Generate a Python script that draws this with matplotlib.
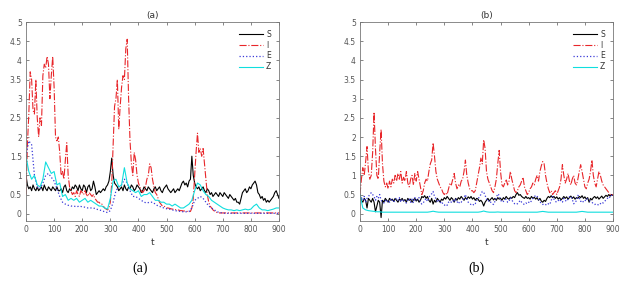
import numpy as np
import matplotlib
matplotlib.use("Agg")
import matplotlib.pyplot as plt

# ---------------- data: panel (a) ----------------
a_I = [0.5, 1.8, 2.6, 3.7, 3.5, 2.7, 2.6, 3.5, 2.5, 2.0, 2.5, 2.3, 3.6, 3.9, 3.8, 4.1, 3.9, 3.0, 3.6, 4.1,
       3.3, 2.0, 1.9, 2.0, 1.6, 1.0, 1.1, 0.9, 1.4, 1.85, 1.0, 0.7, 0.6, 0.5, 0.55, 0.45, 0.6, 0.5, 0.45, 0.6,
       0.55, 0.5, 0.6, 0.5, 0.45, 0.55, 0.5, 0.45, 0.5, 0.4, 0.35, 0.3, 0.3, 0.25, 0.25, 0.2, 0.15, 0.12, 0.1, 0.15,
       0.3, 0.8, 1.8, 2.8, 3.0, 3.5, 2.2, 2.8, 3.3, 3.6, 3.5, 4.3, 4.55, 3.0, 1.9, 1.3, 1.0, 1.6, 1.4, 1.0,
       0.8, 0.7, 0.6, 0.55, 0.6, 0.7, 0.9, 1.0, 1.3, 1.2, 0.9, 0.7, 0.55, 0.5, 0.4, 0.3, 0.25, 0.2, 0.2, 0.18,
       0.15, 0.15, 0.14, 0.13, 0.12, 0.12, 0.11, 0.1, 0.1, 0.09, 0.08, 0.08, 0.07, 0.07, 0.06, 0.06, 0.05, 0.06, 0.15, 0.4,
       1.0, 1.6, 2.1, 1.6, 1.7, 1.5, 1.7, 1.3, 0.9, 0.5, 0.3, 0.2, 0.15, 0.1, 0.07, 0.05, 0.03, 0.02, 0.02, 0.02,
       0.02, 0.02, 0.02, 0.02, 0.02, 0.02, 0.02, 0.02, 0.02, 0.02, 0.02, 0.02, 0.02, 0.02, 0.02, 0.02, 0.02, 0.02, 0.02, 0.02,
       0.02, 0.02, 0.02, 0.02, 0.02, 0.02, 0.02, 0.02, 0.02, 0.02, 0.02, 0.02, 0.02, 0.02, 0.02, 0.02, 0.02, 0.02, 0.02, 0.02,
       0.02]

a_S = [1.0, 0.75, 0.65, 0.7, 0.6, 0.75, 0.65, 0.6, 0.7, 0.6, 0.65, 0.7, 0.6, 0.75, 0.65, 0.6, 0.7, 0.65, 0.6, 0.7,
       0.65, 0.6, 0.7, 0.6, 0.6, 0.65, 0.55, 0.7, 0.75, 0.6, 0.55, 0.65, 0.6, 0.7, 0.65, 0.75, 0.7, 0.6, 0.75, 0.65,
       0.6, 0.75, 0.7, 0.55, 0.7, 0.75, 0.6, 0.65, 0.85, 0.7, 0.5, 0.55, 0.6, 0.55, 0.6, 0.65, 0.6, 0.7, 0.75, 0.85,
       1.1, 1.45, 1.0, 0.8, 0.75, 0.7, 0.6, 0.65, 0.7, 0.6, 0.75, 0.65, 0.6, 0.7, 0.65, 0.75, 0.7, 0.6, 0.65, 0.75,
       0.7, 0.65, 0.55, 0.6, 0.7, 0.65, 0.6, 0.7, 0.65, 0.6, 0.55, 0.65, 0.7, 0.6, 0.65, 0.7, 0.6, 0.55, 0.65, 0.7,
       0.75, 0.65, 0.6, 0.55, 0.6, 0.65, 0.55, 0.6, 0.65, 0.6, 0.7, 0.8, 0.85, 0.75, 0.8, 0.7, 0.85, 0.9, 1.5, 1.0,
       0.8, 0.7, 0.65, 0.7, 0.6, 0.65, 0.7, 0.6, 0.55, 0.65, 0.6, 0.5, 0.55, 0.45, 0.5, 0.55, 0.5, 0.45, 0.55, 0.5,
       0.45, 0.55, 0.5, 0.45, 0.4, 0.5, 0.45, 0.4, 0.35, 0.4, 0.3, 0.3, 0.25, 0.4, 0.55, 0.6, 0.65, 0.55, 0.6, 0.7,
       0.65, 0.75, 0.8, 0.85, 0.75, 0.55, 0.5, 0.4, 0.45, 0.35, 0.4, 0.3, 0.35, 0.3, 0.35, 0.4, 0.45, 0.55, 0.6, 0.5,
       0.4]

a_E = [1.5, 1.9, 1.8, 1.0, 0.7, 0.65, 0.8, 1.0, 1.05, 0.95, 0.85, 0.65, 0.45, 0.3, 0.25, 0.22, 0.2, 0.2, 0.18, 0.2,
       0.18, 0.17, 0.15, 0.15, 0.15, 0.12, 0.1, 0.08, 0.05, 0.03, 0.08, 0.3, 0.6, 0.7, 0.75, 0.9, 0.8, 0.6, 0.45, 0.45,
       0.4, 0.35, 0.3, 0.28, 0.3, 0.3, 0.25, 0.2, 0.18, 0.15, 0.13, 0.12, 0.1, 0.08, 0.07, 0.06, 0.05, 0.05, 0.06, 0.15,
       0.35, 0.4, 0.45, 0.4, 0.3, 0.2, 0.15, 0.1, 0.05, 0.03, 0.02, 0.01, 0.01, 0.01, 0.01, 0.01, 0.01, 0.01, 0.01, 0.01,
       0.01, 0.01, 0.01, 0.01, 0.01, 0.01, 0.01, 0.01, 0.01, 0.01, 0.01]

a_Z = [1.5, 1.1, 0.9, 1.0, 0.75, 0.7, 0.9, 1.35, 1.2, 1.05, 1.1, 0.75, 0.8, 0.45, 0.5, 0.35, 0.4, 0.35, 0.4, 0.3,
       0.35, 0.4, 0.3, 0.35, 0.3, 0.25, 0.2, 0.2, 0.15, 0.12, 0.4, 0.85, 0.9, 0.7, 0.75, 1.2, 0.8, 0.65, 0.6, 0.55,
       0.6, 0.45, 0.5, 0.5, 0.55, 0.45, 0.35, 0.35, 0.3, 0.3, 0.25, 0.25, 0.2, 0.25, 0.2, 0.15, 0.15, 0.2, 0.25, 0.35,
       0.6, 0.8, 0.75, 0.6, 0.5, 0.45, 0.35, 0.3, 0.25, 0.2, 0.15, 0.12, 0.1, 0.1, 0.08, 0.1, 0.08, 0.1, 0.12, 0.1,
       0.12, 0.2, 0.25, 0.15, 0.1, 0.1, 0.08, 0.1, 0.12, 0.15, 0.15]

# ---------------- data: panel (b) ----------------
b_I = [0.5, 0.9, 1.2, 1.0, 1.35, 1.75, 1.1, 0.9, 1.0, 1.6, 2.65, 1.7, 1.0, 0.9, 1.6, 2.2, 1.3, 0.85, 0.7, 0.8,
       0.65, 0.85, 0.7, 0.9, 0.8, 1.0, 0.85, 1.05, 0.9, 1.1, 0.8, 0.95, 0.85, 1.1, 0.8, 0.7, 0.9, 1.0, 0.75, 1.05,
       0.85, 1.1, 0.9, 0.7, 0.5, 0.6, 0.8, 0.9, 0.85, 1.1, 1.3, 1.4, 1.85, 1.5, 1.1, 0.9, 0.8, 0.7, 0.65, 0.55,
       0.5, 0.55, 0.5, 0.65, 0.8, 0.75, 0.9, 1.05, 0.8, 0.65, 0.75, 0.7, 0.85, 0.9, 1.1, 1.4, 1.0, 0.8, 0.65, 0.6,
       0.6, 0.55, 0.6, 0.8, 1.0, 1.2, 1.45, 1.3, 1.93, 1.7, 1.1, 0.9, 0.8, 0.7, 0.6, 0.55, 0.7, 0.9, 1.3, 1.65,
       1.1, 0.75, 0.7, 0.8, 0.9, 0.75, 0.85, 1.1, 0.9, 0.75, 0.6, 0.55, 0.6, 0.7, 0.75, 0.85, 0.95, 0.7, 0.6, 0.5,
       0.55, 0.65, 0.7, 0.8, 0.75, 0.9, 1.0, 0.85, 1.1, 1.25, 1.36, 1.3, 1.0, 0.8, 0.65, 0.55, 0.6, 0.5, 0.55, 0.6,
       0.5, 0.6, 0.7, 0.9, 1.28, 1.0, 0.8, 0.9, 1.05, 0.85, 0.75, 0.9, 1.0, 0.8, 0.75, 0.9, 1.1, 1.28, 1.1, 0.9,
       0.7, 0.65, 0.8, 0.9, 1.1, 1.4, 1.0, 0.8, 0.7, 0.9, 1.1, 1.0, 0.85, 0.75, 0.7, 0.65, 0.6, 0.55, 0.5, 0.48,
       0.5]

b_S = [0.5, 0.35, 0.3, 0.4, 0.35, 0.15, 0.4, 0.35, 0.3, 0.4, 0.3, 0.05, 0.2, 0.35, 0.3, -0.1, 0.35, 0.3, 0.4, 0.35,
       0.3, 0.4, 0.35, 0.38, 0.32, 0.4, 0.35, 0.3, 0.38, 0.35, 0.4, 0.33, 0.37, 0.3, 0.4, 0.35, 0.38, 0.3, 0.36, 0.4,
       0.33, 0.38, 0.3, 0.35, 0.45, 0.42, 0.47, 0.4, 0.45, 0.35, 0.3, 0.4, 0.25, 0.35, 0.3, 0.4, 0.35, 0.3, 0.38, 0.35,
       0.42, 0.38, 0.45, 0.4, 0.35, 0.42, 0.38, 0.3, 0.4, 0.35, 0.42, 0.38, 0.45, 0.4, 0.35, 0.42, 0.38, 0.44, 0.4, 0.45,
       0.38, 0.42, 0.35, 0.4, 0.38, 0.32, 0.35, 0.3, 0.2, 0.3, 0.35, 0.4, 0.33, 0.38, 0.42, 0.36, 0.4, 0.35, 0.42, 0.38,
       0.4, 0.35, 0.42, 0.38, 0.45, 0.4, 0.38, 0.43, 0.4, 0.45, 0.42, 0.5, 0.55, 0.48, 0.5, 0.45, 0.42, 0.4, 0.45, 0.4,
       0.42, 0.38, 0.45, 0.4, 0.43, 0.38, 0.42, 0.35, 0.4, 0.33, 0.3, 0.35, 0.32, 0.4, 0.45, 0.42, 0.47, 0.42, 0.45, 0.4,
       0.44, 0.38, 0.42, 0.36, 0.4, 0.45, 0.4, 0.44, 0.38, 0.42, 0.46, 0.4, 0.44, 0.38, 0.42, 0.4, 0.45, 0.42, 0.47, 0.4,
       0.44, 0.38, 0.42, 0.3, 0.4, 0.36, 0.42, 0.45, 0.4, 0.44, 0.38, 0.42, 0.46, 0.4, 0.44, 0.48, 0.45, 0.5, 0.46, 0.5,
       0.48]

b_E = [0.5, 0.42, 0.35, 0.45, 0.3, 0.4, 0.45, 0.5, 0.55, 0.5, 0.45, 0.35, 0.45, 0.4, 0.5, 0.35, 0.3, 0.28, 0.35, 0.3,
       0.35, 0.3, 0.4, 0.35, 0.3, 0.38, 0.4, 0.35, 0.42, 0.3, 0.38, 0.35, 0.3, 0.28, 0.35, 0.4, 0.3, 0.38, 0.28, 0.42,
       0.35, 0.4, 0.42, 0.3, 0.25, 0.28, 0.35, 0.4, 0.32, 0.42, 0.48, 0.52, 0.58, 0.45, 0.4, 0.32, 0.36, 0.28, 0.32, 0.25,
       0.22, 0.25, 0.22, 0.3, 0.33, 0.3, 0.35, 0.3, 0.4, 0.32, 0.26, 0.32, 0.3, 0.36, 0.42, 0.5, 0.38, 0.3, 0.26, 0.24,
       0.26, 0.22, 0.26, 0.35, 0.38, 0.45, 0.5, 0.58, 0.56, 0.48, 0.38, 0.32, 0.35, 0.3, 0.26, 0.24, 0.32, 0.42, 0.52, 0.48,
       0.36, 0.3, 0.32, 0.36, 0.38, 0.3, 0.32, 0.42, 0.36, 0.3, 0.26, 0.24, 0.26, 0.3, 0.35, 0.3, 0.26, 0.24, 0.28, 0.26,
       0.3, 0.28, 0.34, 0.4, 0.44, 0.48, 0.46, 0.38, 0.32, 0.26, 0.24, 0.26, 0.24, 0.22, 0.26, 0.24, 0.34, 0.45, 0.38, 0.32,
       0.3, 0.34, 0.38, 0.32, 0.3, 0.4, 0.35, 0.32, 0.38, 0.44, 0.46, 0.38, 0.26, 0.28, 0.35, 0.48, 0.42, 0.32, 0.35, 0.3,
       0.32, 0.4, 0.38, 0.35, 0.32, 0.3, 0.26, 0.24, 0.26, 0.24, 0.22, 0.26, 0.3, 0.28, 0.32, 0.36, 0.4, 0.45, 0.42, 0.48,
       0.5]

b_Z = [0.5, 0.15, 0.1, 0.08, 0.07, 0.06, 0.05, 0.05, 0.04, 0.04, 0.04, 0.04, 0.04, 0.04, 0.04, 0.04, 0.04, 0.04, 0.04, 0.04,
       0.04, 0.04, 0.04, 0.04, 0.04, 0.05, 0.065, 0.05, 0.04, 0.04, 0.04, 0.04, 0.04, 0.04, 0.04, 0.04, 0.04, 0.04, 0.04, 0.04,
       0.04, 0.04, 0.04, 0.05, 0.07, 0.05, 0.04, 0.04, 0.04, 0.045, 0.04, 0.04, 0.04, 0.04, 0.04, 0.04, 0.04, 0.04, 0.04, 0.04,
       0.04, 0.04, 0.04, 0.04, 0.05, 0.06, 0.05, 0.04, 0.04, 0.04, 0.04, 0.04, 0.04, 0.04, 0.04, 0.04, 0.04, 0.04, 0.05, 0.06,
       0.05, 0.04, 0.04, 0.04, 0.04, 0.04, 0.04, 0.04, 0.04, 0.04, 0.04]

series_labels = ["S", "I", "E", "Z"]
x_ticks = [0, 100, 200, 300, 400, 500, 600, 700, 800, 900]
y_ticks = [0, 0.5, 1, 1.5, 2, 2.5, 3, 3.5, 4, 4.5, 5]
y_ticklabels = ["0", "0.5", "1", "1.5", "2", "2.5", "3", "3.5", "4", "4.5", "5"]

# ---------------- figure ----------------
plt.rcParams['font.family'] = ['DejaVu Sans']
fig = plt.figure(figsize=(6.25, 2.81), dpi=100)
W, H = 625.0, 281.0

def make_ax(x0, x1, y0, y1):
    return fig.add_axes([x0 / W, 1 - y1 / H, (x1 - x0) / W, (y1 - y0) / H])

styles = [dict(color="black", ls="-", lw=0.8),
          dict(color="#e8262a", ls="-.", lw=0.8),
          dict(color="#3a3ad8", ls=":", lw=0.9),
          dict(color="#10dede", ls="-", lw=0.8)]

panels = [("(a)", [a_S, a_I, a_E, a_Z], 26, 279),
          ("(b)", [b_S, b_I, b_E, b_Z], 360, 613)]

tick_col = "#555555"
for title, data, x0, x1 in panels:
    ax = make_ax(x0, x1, 22, 221)
    for arr, st, lab in zip(data, styles, series_labels):
        t = np.linspace(0, 900, len(arr))
        ax.plot(t, arr, label=lab, **st)
    ax.set_xlim(0, 900)
    ax.set_ylim(-0.19, 5)
    ax.set_xticks(x_ticks)
    ax.set_yticks(y_ticks)
    ax.set_yticklabels(y_ticklabels)
    ax.tick_params(direction="in", length=2.5, width=0.5, labelsize=5.5,
                   colors=tick_col, top=True, right=True, pad=3)
    for sp in ax.spines.values():
        sp.set_color("#777777")
        sp.set_linewidth(0.6)
    ax.set_title(title, fontsize=6.5, color="#333333", pad=3)
    ax.set_xlabel("t", fontsize=6.5, color="#333333", labelpad=3)
    leg = ax.legend(loc="upper right", frameon=False, fontsize=5.5,
                    handlelength=3.2, handletextpad=0.4, labelspacing=0.25,
                    borderaxespad=0.6, markerfirst=True)
    for txt in leg.get_texts():
        txt.set_color("#333333")

fig.text(140 / W, 1 - 268 / H, "(a)", ha="center", va="center",
         fontsize=10, family="Liberation Serif")
fig.text(476 / W, 1 - 268 / H, "(b)", ha="center", va="center",
         fontsize=10, family="Liberation Serif")

fig.savefig("out.png", dpi=100)
